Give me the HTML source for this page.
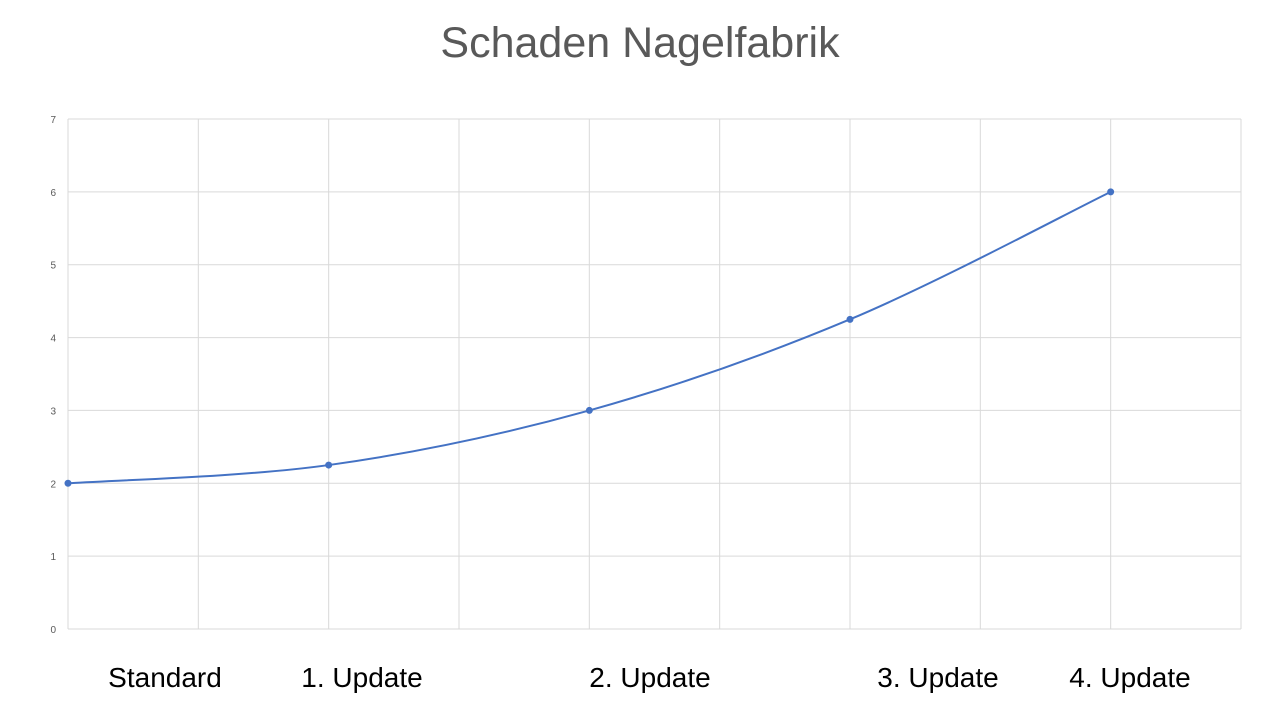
<!DOCTYPE html>
<html><head><meta charset="utf-8"><style>
html,body{margin:0;padding:0;background:#fff;width:1280px;height:720px;overflow:hidden;font-family:"Liberation Sans",sans-serif}
.lbl{position:absolute;top:662px;font-size:28px;color:#000;font-family:"Liberation Sans",sans-serif;transform:translateX(-50%);white-space:nowrap}
</style></head><body>
<svg width="1280" height="720" style="position:absolute;left:0;top:0">
<text x="640" y="57" text-anchor="middle" font-size="43" fill="#595959" font-family="Liberation Sans, sans-serif">Schaden Nagelfabrik</text>
<g id="grid"></g><g id="yt"></g><path id="line" fill="none" stroke="#4472C4" stroke-width="2"></path><g id="pts"></g>
</svg>
<div class="lbl" style="left:165px">Standard</div>
<div class="lbl" style="left:362px">1. Update</div>
<div class="lbl" style="left:650px">2. Update</div>
<div class="lbl" style="left:938px">3. Update</div>
<div class="lbl" style="left:1130px">4. Update</div>
<script>
const xValues=[0,2,4,6,8];
const yValues=[2,2.25,3,4.25,6];
const yTicks=[0,1,2,3,4,5,6,7];
const xGrid=[0,1,2,3,4,5,6,7,8,9];
const NS="http://www.w3.org/2000/svg";
const X0=68,X1=1241,Y0=629,Y1=119;
const sx=v=>X0+(X1-X0)*v/9, sy=v=>Y0-(Y0-Y1)*v/7;
const grid=document.getElementById('grid'), yt=document.getElementById('yt');
for(const t of yTicks){
 const l=document.createElementNS(NS,'line');
 l.setAttribute('x1',X0);l.setAttribute('x2',X1);l.setAttribute('y1',sy(t));l.setAttribute('y2',sy(t));
 l.setAttribute('stroke','#d9d9d9');
 
 
 grid.appendChild(l);
 const tx=document.createElementNS(NS,'text');
 tx.setAttribute('x',56);tx.setAttribute('y',sy(t)+4);tx.setAttribute('text-anchor','end');
 tx.setAttribute('font-size','10');tx.setAttribute('fill','#595959');tx.textContent=t;
 
 
 yt.appendChild(tx);
}
for(const g of xGrid){
 const l=document.createElementNS(NS,'line');
 l.setAttribute('x1',sx(g));l.setAttribute('x2',sx(g));l.setAttribute('y1',Y1);l.setAttribute('y2',Y0);
 l.setAttribute('stroke','#d9d9d9');
 
 
 grid.appendChild(l);
}
const P=xValues.map((x,i)=>[sx(x),sy(yValues[i])]);
let d=`M${P[0][0]},${P[0][1]}`;
for(let i=0;i<P.length-1;i++){
 const p0=P[i-1]||P[i],p1=P[i],p2=P[i+1],p3=P[i+2]||P[i+1];
 const c1=[p1[0]+(p2[0]-p0[0])/6,p1[1]+(p2[1]-p0[1])/6];
 const c2=[p2[0]-(p3[0]-p1[0])/6,p2[1]-(p3[1]-p1[1])/6];
 d+=` C${c1[0]},${c1[1]} ${c2[0]},${c2[1]} ${p2[0]},${p2[1]}`;
}
const line=document.getElementById('line');line.setAttribute('d',d);


const pts=document.getElementById('pts');
for(const p of P){
 const c=document.createElementNS(NS,'circle');
 c.setAttribute('cx',p[0]);c.setAttribute('cy',p[1]);c.setAttribute('r',3.5);c.setAttribute('fill','#4472C4');
 
 
 pts.appendChild(c);
}
</script>
</body></html>
